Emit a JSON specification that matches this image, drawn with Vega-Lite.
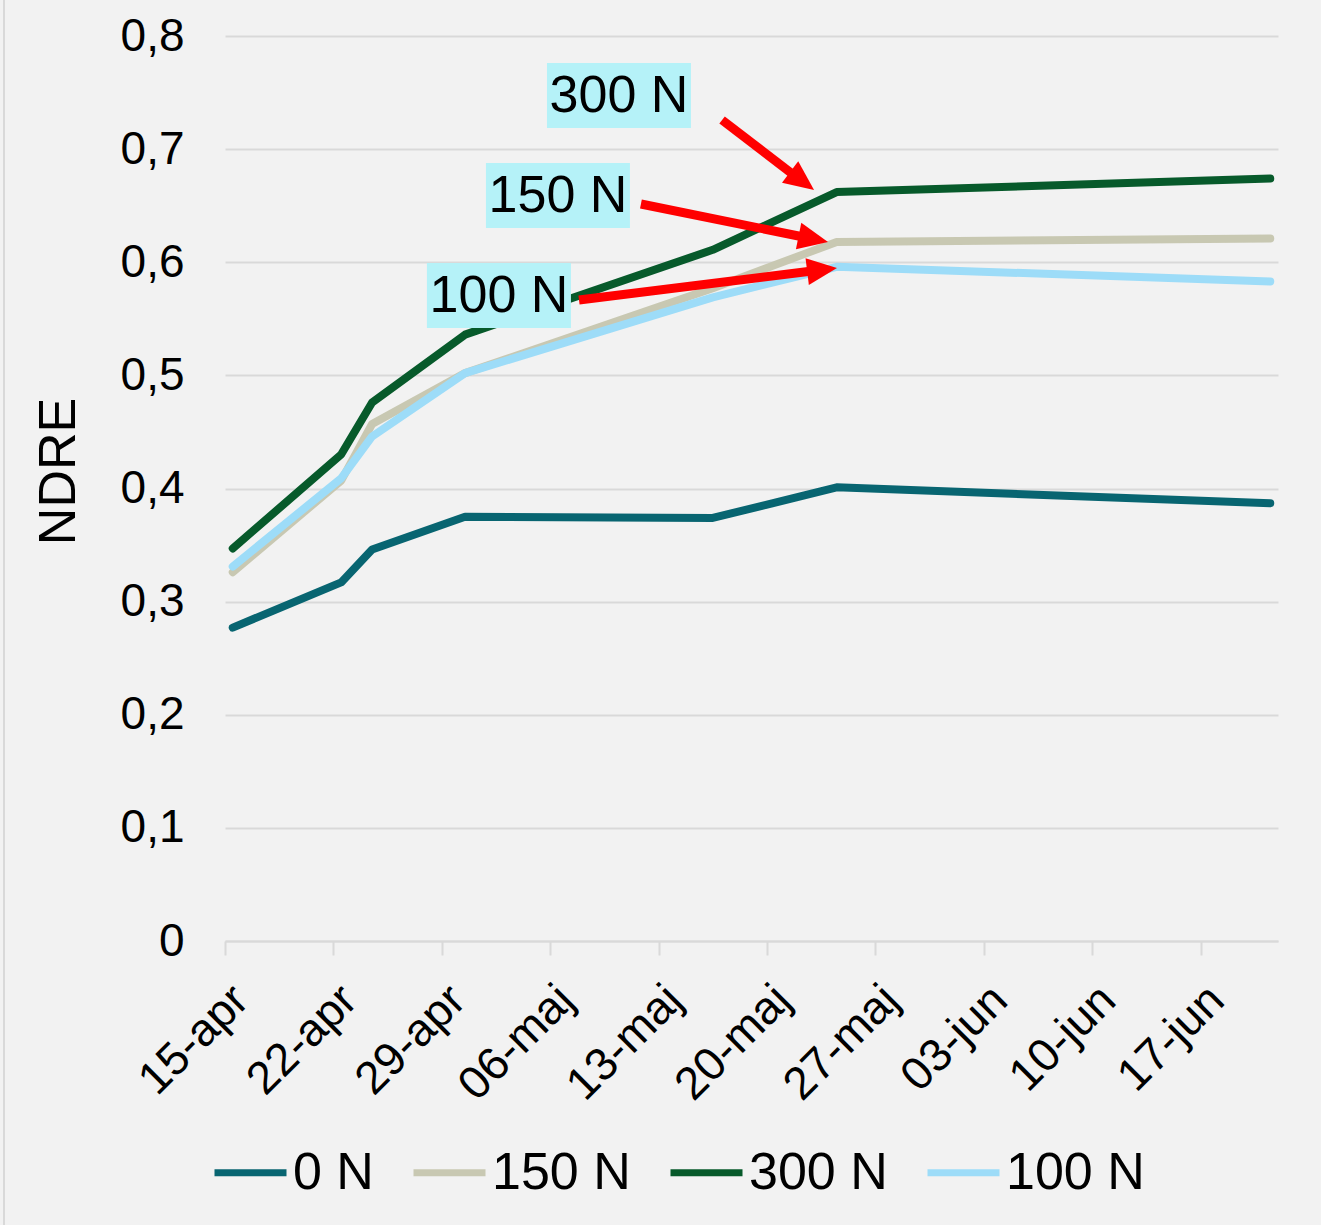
{
  "$schema": "https://vega.github.io/schema/vega-lite/v6.json",
  "width": 1053,
  "height": 905,
  "autosize": {"type": "none"},
  "padding": {"left": 225, "top": 36, "right": 43, "bottom": 284},
  "background": "#f2f2f2",
  "config": {"view": {"stroke": null}, "font": "Liberation Sans"},
  "datasets": {
    "ndre": [
      {"serie": "0 N", "date": "2021-04-15T12:00:00", "ndre": 0.277},
      {"serie": "0 N", "date": "2021-04-22T12:00:00", "ndre": 0.317},
      {"serie": "0 N", "date": "2021-04-24T12:00:00", "ndre": 0.346},
      {"serie": "0 N", "date": "2021-04-30T12:00:00", "ndre": 0.375},
      {"serie": "0 N", "date": "2021-05-16T12:00:00", "ndre": 0.374},
      {"serie": "0 N", "date": "2021-05-24T12:00:00", "ndre": 0.401},
      {"serie": "0 N", "date": "2021-06-21T12:00:00", "ndre": 0.387},
      {"serie": "150 N", "date": "2021-04-15T12:00:00", "ndre": 0.326},
      {"serie": "150 N", "date": "2021-04-22T12:00:00", "ndre": 0.407},
      {"serie": "150 N", "date": "2021-04-24T12:00:00", "ndre": 0.457},
      {"serie": "150 N", "date": "2021-04-30T12:00:00", "ndre": 0.502},
      {"serie": "150 N", "date": "2021-05-16T12:00:00", "ndre": 0.577},
      {"serie": "150 N", "date": "2021-05-24T12:00:00", "ndre": 0.618},
      {"serie": "150 N", "date": "2021-06-21T12:00:00", "ndre": 0.621},
      {"serie": "300 N", "date": "2021-04-15T12:00:00", "ndre": 0.347},
      {"serie": "300 N", "date": "2021-04-22T12:00:00", "ndre": 0.430},
      {"serie": "300 N", "date": "2021-04-24T12:00:00", "ndre": 0.476},
      {"serie": "300 N", "date": "2021-04-30T12:00:00", "ndre": 0.536},
      {"serie": "300 N", "date": "2021-05-16T12:00:00", "ndre": 0.611},
      {"serie": "300 N", "date": "2021-05-24T12:00:00", "ndre": 0.662},
      {"serie": "300 N", "date": "2021-06-21T12:00:00", "ndre": 0.674},
      {"serie": "100 N", "date": "2021-04-15T12:00:00", "ndre": 0.331},
      {"serie": "100 N", "date": "2021-04-22T12:00:00", "ndre": 0.409},
      {"serie": "100 N", "date": "2021-04-24T12:00:00", "ndre": 0.446},
      {"serie": "100 N", "date": "2021-04-30T12:00:00", "ndre": 0.502},
      {"serie": "100 N", "date": "2021-05-16T12:00:00", "ndre": 0.569},
      {"serie": "100 N", "date": "2021-05-24T12:00:00", "ndre": 0.596},
      {"serie": "100 N", "date": "2021-06-21T12:00:00", "ndre": 0.583}
    ],
    "boxes": [
      {"label": "300 N", "x": "2021-05-05T19:00:00", "x2": "2021-05-15T02:10:00", "y": 0.7761, "y2": 0.7187, "tx": "2021-05-10T10:34:00", "ty": 0.747},
      {"label": "150 N", "x": "2021-05-01T20:24:00", "x2": "2021-05-11T03:36:00", "y": 0.6877, "y2": 0.6303, "tx": "2021-05-06T12:00:00", "ty": 0.6586},
      {"label": "100 N", "x": "2021-04-28T00:58:00", "x2": "2021-05-07T08:10:00", "y": 0.5993, "y2": 0.5419, "tx": "2021-05-02T16:34:00", "ty": 0.5702}
    ],
    "arrows": [
      {"label": "300 N", "x": "2021-05-17T02:24:00", "y": 0.7257, "x2": "2021-05-21T18:00:00", "y2": 0.6769, "tipx": "2021-05-23T00:58:00", "tipy": 0.6638},
      {"label": "150 N", "x": "2021-05-11T20:38:00", "y": 0.6515, "x2": "2021-05-22T08:38:00", "y2": 0.6223, "tipx": "2021-05-23T22:34:00", "tipy": 0.6179},
      {"label": "100 N", "x": "2021-05-07T20:38:00", "y": 0.5666, "x2": "2021-05-22T22:05:00", "y2": 0.5922, "tipx": "2021-05-24T12:29:00", "tipy": 0.5949}
    ],
    "frame": [
      {"x": "2021-03-31T17:30:00", "y": -0.26, "y2": 0.84}
    ]
  },
  "layer": [
    {
      "data": {"name": "frame"},
      "mark": {"type": "rule", "color": "#d9d9d9", "strokeWidth": 2, "clip": false},
      "encoding": {
        "x": {"field": "x", "type": "temporal", "title": null},
        "y": {"field": "y", "type": "quantitative", "title": "NDRE"},
        "y2": {"field": "y2"}
      }
    },
    {
      "data": {"name": "ndre"},
      "mark": {"type": "line", "strokeWidth": 8, "strokeCap": "round", "strokeJoin": "round"},
      "encoding": {
        "x": {
          "field": "date", "type": "temporal", "title": null,
          "scale": {"domain": [{"year": 2021, "month": 4, "date": 15}, {"year": 2021, "month": 6, "date": 22}]},
          "axis": {
            "values": [
              {"year": 2021, "month": 4, "date": 15}, {"year": 2021, "month": 4, "date": 22},
              {"year": 2021, "month": 4, "date": 29}, {"year": 2021, "month": 5, "date": 6},
              {"year": 2021, "month": 5, "date": 13}, {"year": 2021, "month": 5, "date": 20},
              {"year": 2021, "month": 5, "date": 27}, {"year": 2021, "month": 6, "date": 3},
              {"year": 2021, "month": 6, "date": 10}, {"year": 2021, "month": 6, "date": 17}
            ],
            "labelExpr": "timeFormat(datum.value, '%d') + '-' + ['jan','feb','mar','apr','maj','jun','jul','aug','sep','okt','nov','dec'][month(datum.value)]",
            "labelAngle": -45,
            "labelFontSize": 46,
            "labelColor": "#000000",
            "labelPadding": 22,
            "labelOverlap": false,
            "labelBound": false,
            "labelFlush": false,
            "domainColor": "#d9d9d9",
            "domainWidth": 2,
            "tickColor": "#d9d9d9",
            "tickWidth": 2,
            "tickSize": 14,
            "grid": false
          }
        },
        "y": {
          "field": "ndre", "type": "quantitative", "title": "NDRE",
          "scale": {"domain": [0, 0.8]},
          "axis": {
            "values": [0, 0.1, 0.2, 0.3, 0.4, 0.5, 0.6, 0.7, 0.8],
            "labelExpr": "datum.value == 0 ? '0' : replace(format(datum.value, '.1f'), '.', ',')",
            "labelFontSize": 46,
            "labelColor": "#000000",
            "labelPadding": 41,
            "ticks": false,
            "domain": false,
            "grid": true,
            "gridColor": "#d9d9d9",
            "gridWidth": 2,
            "titleFontSize": 52,
            "titleFontWeight": "normal",
            "titleColor": "#000000",
            "titleAngle": 270,
            "titleX": -151,
            "titleY": 435,
            "titleBaseline": "alphabetic",
            "titleAlign": "center"
          }
        },
        "color": {
          "field": "serie", "type": "nominal",
          "scale": {"domain": ["0 N", "150 N", "300 N", "100 N"], "range": ["#086571", "#c8c8b2", "#075a2b", "#9ddcf8"]},
          "legend": {
            "orient": "none",
            "legendX": -14,
            "legendY": 1097,
            "direction": "horizontal",
            "title": null,
            "symbolType": "stroke",
            "symbolSize": 5184,
            "symbolStrokeWidth": 7,
            "labelFontSize": 52,
            "labelColor": "#000000",
            "labelOffset": 3,
            "columnPadding": 25,
            "labelLimit": 0
          }
        }
      }
    },
    {
      "data": {"name": "arrows"},
      "mark": {"type": "rule", "color": "#ff0000", "strokeWidth": 9},
      "encoding": {
        "x": {"field": "x", "type": "temporal", "title": null},
        "y": {"field": "y", "type": "quantitative", "title": "NDRE"},
        "x2": {"field": "x2"},
        "y2": {"field": "y2"}
      }
    },
    {
      "data": {"name": "arrows"},
      "transform": [{"filter": "datum.label == '300 N'"}],
      "mark": {"type": "point", "shape": "M0,0L0.45,1L-0.45,1Z", "size": 3600, "angle": 127, "filled": true, "color": "#ff0000", "opacity": 1, "strokeWidth": 0},
      "encoding": {
        "x": {"field": "tipx", "type": "temporal", "title": null},
        "y": {"field": "tipy", "type": "quantitative", "title": "NDRE"}
      }
    },
    {
      "data": {"name": "arrows"},
      "transform": [{"filter": "datum.label == '150 N'"}],
      "mark": {"type": "point", "shape": "M0,0L0.45,1L-0.45,1Z", "size": 3600, "angle": 101.5, "filled": true, "color": "#ff0000", "opacity": 1, "strokeWidth": 0},
      "encoding": {
        "x": {"field": "tipx", "type": "temporal", "title": null},
        "y": {"field": "tipy", "type": "quantitative", "title": "NDRE"}
      }
    },
    {
      "data": {"name": "arrows"},
      "transform": [{"filter": "datum.label == '100 N'"}],
      "mark": {"type": "point", "shape": "M0,0L0.45,1L-0.45,1Z", "size": 3600, "angle": 83, "filled": true, "color": "#ff0000", "opacity": 1, "strokeWidth": 0},
      "encoding": {
        "x": {"field": "tipx", "type": "temporal", "title": null},
        "y": {"field": "tipy", "type": "quantitative", "title": "NDRE"}
      }
    },
    {
      "data": {"name": "boxes"},
      "mark": {"type": "rect", "color": "#b5f2f8"},
      "encoding": {
        "x": {"field": "x", "type": "temporal", "title": null},
        "x2": {"field": "x2"},
        "y": {"field": "y", "type": "quantitative", "title": "NDRE"},
        "y2": {"field": "y2"}
      }
    },
    {
      "data": {"name": "boxes"},
      "mark": {"type": "text", "fontSize": 52, "color": "#000000", "align": "center", "baseline": "middle"},
      "encoding": {
        "x": {"field": "tx", "type": "temporal", "title": null},
        "y": {"field": "ty", "type": "quantitative", "title": "NDRE"},
        "text": {"field": "label"}
      }
    }
  ]
}
